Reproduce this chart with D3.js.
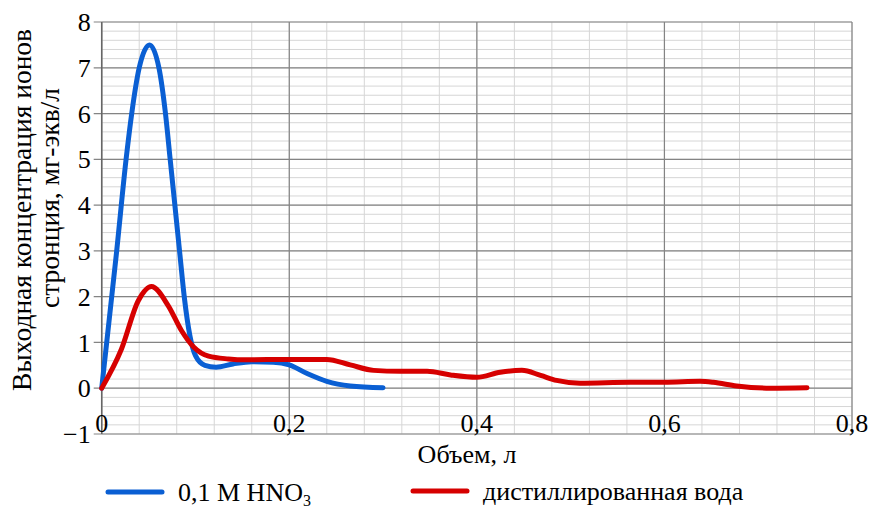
<!DOCTYPE html>
<html>
<head>
<meta charset="utf-8">
<script src="https://cdn.jsdelivr.net/npm/d3@7"></script>
<style>
  body { margin: 0; background: #fff; }
</style>
</head>
<body>
<svg id="chart" width="871" height="508" font-family="'Liberation Serif', 'DejaVu Serif', 'Times New Roman', serif"></svg>
<script>
// 0,1 M HNO3
const hno3X = [0, 0.016, 0.026, 0.032, 0.04, 0.051, 0.061, 0.068, 0.073, 0.078, 0.083, 0.088, 0.094, 0.1, 0.11, 0.122, 0.14, 0.16, 0.183, 0.2, 0.219, 0.24, 0.265, 0.3];
const hno3Y = [0, 3, 5, 6, 7, 7.5, 7, 6, 5, 4, 3, 2, 1.15, 0.71, 0.5, 0.46, 0.53, 0.58, 0.57, 0.51, 0.32, 0.15, 0.05, 0.01];

// дистиллированная вода
const waterX = [0, 0.021, 0.039, 0.053, 0.071, 0.085, 0.098, 0.114, 0.135, 0.153, 0.2, 0.24, 0.265, 0.29, 0.318, 0.347, 0.372, 0.4, 0.425, 0.448, 0.468, 0.485, 0.51, 0.564, 0.6, 0.638, 0.652, 0.677, 0.713, 0.752];
const waterY = [0, 0.85, 1.91, 2.22, 1.8, 1.26, 0.9, 0.7, 0.64, 0.62, 0.63, 0.63, 0.51, 0.39, 0.37, 0.37, 0.29, 0.24, 0.35, 0.39, 0.28, 0.17, 0.11, 0.13, 0.13, 0.15, 0.13, 0.05, 0, 0.01];

const xTicks = [0, 0.2, 0.4, 0.6, 0.8];
const yTicks = [-1, 0, 1, 2, 3, 4, 5, 6, 7, 8];
const xLabel = "Объем, л";
const yLabel = ["Выходная концентрация ионов", "стронция, мг-экв/л"];

const svg = d3.select("#chart");

const x = d3.scaleLinear().domain([0, 0.8]).range([101.7, 852]);
const y = d3.scaleLinear().domain([-1, 8]).range([434, 22]);

// minor grid
const xMinor = d3.range(0, 0.8001, 0.04);
const yMinor = d3.range(-1, 8.001, 0.2);

const grid = svg.append("g");
grid.selectAll(".ym").data(yMinor).enter().append("line")
  .attr("x1", x(0)).attr("x2", x(0.8))
  .attr("y1", (d) => y(d)).attr("y2", (d) => y(d))
  .attr("stroke", "#d6d6d6").attr("stroke-width", 1);
grid.selectAll(".xm").data(xMinor).enter().append("line")
  .attr("x1", (d) => x(d)).attr("x2", (d) => x(d))
  .attr("y1", y(-1)).attr("y2", y(8))
  .attr("stroke", "#d6d6d6").attr("stroke-width", 1);

// major grid
grid.selectAll(".yM").data(yTicks).enter().append("line")
  .attr("x1", x(0) - 8).attr("x2", x(0.8))
  .attr("y1", (d) => y(d)).attr("y2", (d) => y(d))
  .attr("stroke", "#848484").attr("stroke-width", 1.2);
grid.selectAll(".xM").data(xTicks).enter().append("line")
  .attr("x1", (d) => x(d)).attr("x2", (d) => x(d))
  .attr("y1", y(-1)).attr("y2", y(8))
  .attr("stroke", "#848484").attr("stroke-width", 1.2);

// y axis line
svg.append("line")
  .attr("x1", x(0)).attr("x2", x(0))
  .attr("y1", y(-1)).attr("y2", y(8))
  .attr("stroke", "#666").attr("stroke-width", 1.5);

// y tick labels
svg.selectAll(".ytl").data(yTicks).enter().append("text")
  .attr("x", x(0) - 11)
  .attr("y", (d) => y(d))
  .attr("dy", "0.35em")
  .attr("text-anchor", "end")
  .attr("font-size", 26)
  .text((d) => d3.format("d")(d));

// x tick labels sit on the bottom line
svg.selectAll(".xtl").data(xTicks).enter().append("text")
  .attr("x", (d) => x(d))
  .attr("y", y(-1) - 2)
  .attr("text-anchor", "middle")
  .attr("font-size", 26)
  .text((d) => (d === 0 ? "0" : d3.format(".1f")(d).replace(".", ",")));

svg.append("text")
  .attr("x", 467).attr("y", 463)
  .attr("text-anchor", "middle")
  .attr("font-size", 26)
  .text(xLabel);

const yl = svg.append("text")
  .attr("transform", "translate(31,210) rotate(-90)")
  .attr("text-anchor", "middle")
  .attr("font-size", 27.5);
yl.append("tspan").attr("x", 0).attr("y", 0).text(yLabel[0]);
yl.append("tspan").attr("x", 12).attr("y", 28).text(yLabel[1]);

// lines
const line = d3.line()
  .x((d) => x(d[0]))
  .y((d) => y(d[1]))
  .curve(d3.curveMonotoneX);

const waterData = d3.zip(waterX, waterY);
const hno3Data = d3.zip(hno3X, hno3Y);

svg.append("path")
  .datum(hno3Data)
  .attr("fill", "none")
  .attr("stroke", "#0a5fd3")
  .attr("stroke-width", 5)
  .attr("stroke-linecap", "round")
  .attr("stroke-linejoin", "round")
  .attr("d", line);

svg.append("path")
  .datum(waterData)
  .attr("fill", "none")
  .attr("stroke", "#d60000")
  .attr("stroke-width", 5)
  .attr("stroke-linecap", "round")
  .attr("stroke-linejoin", "round")
  .attr("d", line);

// legend
const legend = [
  { color: "#0a5fd3", x: 108, y: 492, label: "0,1 M HNO", sub: "3" },
  { color: "#d60000", x: 413, y: 491, label: "дистиллированная вода", sub: "" },
];
const lg = svg.selectAll(".lg").data(legend).enter().append("g");
lg.append("line")
  .attr("x1", (d) => d.x).attr("x2", (d) => d.x + 54)
  .attr("y1", (d) => d.y).attr("y2", (d) => d.y)
  .attr("stroke", (d) => d.color)
  .attr("stroke-width", 5)
  .attr("stroke-linecap", "round");
const lt = lg.append("text")
  .attr("x", (d) => d.x + 70)
  .attr("y", (d) => d.y + 9)
  .attr("font-size", 26);
lt.append("tspan").text((d) => d.label);
lt.append("tspan")
  .attr("font-size", 16)
  .attr("dy", 5)
  .text((d) => d.sub);
</script>
</body>
</html>
